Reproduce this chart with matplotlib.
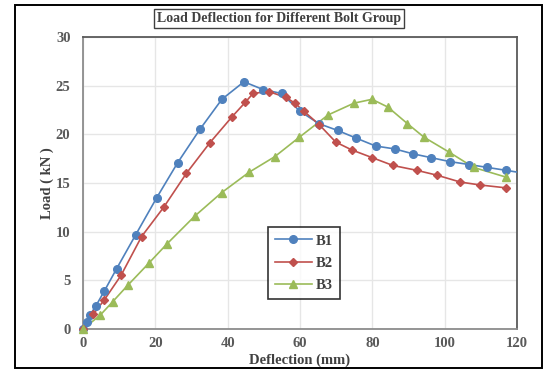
import matplotlib
matplotlib.use("Agg")
import matplotlib.pyplot as plt
from matplotlib.patches import Rectangle

# =========================================================
# DATA
# =========================================================

B1_X = [0, 1.0, 1.9, 3.6, 5.9, 9.3, 14.6, 20.4, 26.2, 32.3, 38.4, 44.5, 49.8,
        54.9, 59.9, 65.2, 70.4, 75.6, 80.9, 86.2, 91.2, 96.3, 101.4, 106.7,
        111.8, 117.0, 122.0]
B1_Y = [0, 0.7, 1.4, 2.4, 3.9, 6.2, 9.7, 13.5, 17.1, 20.5, 23.6, 25.4, 24.6,
        24.2, 22.4, 21.1, 20.4, 19.6, 18.8, 18.5, 18.0, 17.6, 17.2, 16.9,
        16.6, 16.3, 16.0]

B2_X = [0, 2.8, 5.9, 10.5, 16.2, 22.3, 28.6, 35.0, 41.2, 44.9, 47.0, 51.3,
        56.1, 58.6, 61.0, 65.3, 69.9, 74.3, 80.0, 85.7, 92.3, 97.9, 104.3,
        109.7, 117.0]
B2_Y = [0, 1.5, 3.0, 5.5, 9.5, 12.5, 16.0, 19.1, 21.8, 23.3, 24.2, 24.4,
        23.8, 23.2, 22.4, 21.0, 19.2, 18.4, 17.6, 16.8, 16.3, 15.8, 15.1,
        14.8, 14.5]

B3_X = [0, 4.7, 8.2, 12.4, 18.3, 23.1, 30.9, 38.3, 45.9, 53.0, 59.8, 67.8,
        74.9, 79.9, 84.3, 89.7, 94.3, 101.1, 108.0, 117.0]
B3_Y = [0, 1.4, 2.8, 4.5, 6.8, 8.7, 11.6, 14.0, 16.1, 17.7, 19.7, 22.0,
        23.2, 23.6, 22.8, 21.1, 19.7, 18.2, 16.6, 15.6]

X_TICKS = [0, 20, 40, 60, 80, 100, 120]
Y_TICKS = [0, 5, 10, 15, 20, 25, 30]

TITLE = "Load Deflection for Different Bolt Group"
XLABEL = "Deflection (mm)"
YLABEL = "Load ( kN )"

# =========================================================
# STYLE
# =========================================================

SERIF = ["Liberation Serif", "DejaVu Serif"]
TEXT_COLOR = "#404040"
TICK_COLOR = "#595959"
X_MAX = 120

SERIES = [
    ("B1", B1_X, B1_Y, "#4F81BD", "o", 5.5),
    ("B2", B2_X, B2_Y, "#C0504D", "D", 4.0),
    ("B3", B3_X, B3_Y, "#9BBB59", "^", 6.0),
]

plt.rcParams["font.family"] = SERIF
plt.rcParams["font.weight"] = "bold"

fig = plt.figure(figsize=(5.46, 3.70), dpi=100)
ax = fig.add_axes([83 / 546, 1 - 329 / 370, 434 / 546, 292 / 370])

# ---------------- SERIES ----------------
for name, xs, ys, color, marker, ms in SERIES:
    # line clipped to plot area, markers inside range drawn unclipped
    ax.plot(xs, ys, color=color, lw=1.2, zorder=3)
    mx = [x for x in xs if x <= X_MAX]
    my = [y for x, y in zip(xs, ys) if x <= X_MAX]
    ax.plot(mx, my, linestyle="none", marker=marker, markersize=ms,
            color=color, clip_on=False, zorder=4)
    ax.plot([], [], color=color, lw=1.2, marker=marker, markersize=ms,
            label=name)

# ---------------- AXES ----------------
ax.set_xlim(0, X_MAX)
ax.set_ylim(0, 30)
ax.set_xticks(X_TICKS)
ax.set_yticks(Y_TICKS)
ax.grid(True, color="#E6E6E6", lw=1.0, zorder=0)
ax.set_axisbelow(True)
ax.tick_params(length=0, labelsize=10.5, colors=TICK_COLOR, pad=9)
for lab in ax.get_xticklabels() + ax.get_yticklabels():
    lab.set_fontweight("bold")
ax.tick_params(axis="x", pad=6)

ax.spines["left"].set_color("#8C8C8C")
ax.spines["bottom"].set_color("#8C8C8C")
ax.spines["top"].set_color("#5A5A5A")
ax.spines["right"].set_color("#5A5A5A")
for s in ax.spines.values():
    s.set_linewidth(1.3)

ax.set_xlabel(XLABEL, fontsize=10.5, fontweight="bold", color=TEXT_COLOR,
              labelpad=2)
ax.set_ylabel(YLABEL, fontsize=10.5, fontweight="bold", color=TEXT_COLOR,
              labelpad=0)
ax.yaxis.set_label_coords(-0.067, 0.5)

leg = ax.legend(loc="upper left", bbox_to_anchor=(0.426, 0.349),
                borderaxespad=0, frameon=True, fancybox=False,
                handlelength=2.5, borderpad=0.5, labelspacing=0.62,
                handletextpad=0.3,
                prop={"family": SERIF, "weight": "bold", "size": 10.5})
leg.get_frame().set_edgecolor("black")
leg.get_frame().set_linewidth(1.2)
for t in leg.get_texts():
    t.set_color(TEXT_COLOR)

# ---------------- TITLE ----------------
fig.text(279 / 546, 1 - 18.5 / 370, TITLE, ha="center", va="center",
         fontsize=10, fontweight="bold", color=TEXT_COLOR,
         bbox=dict(boxstyle="square,pad=0.2", fc="white", ec="#404040",
                   lw=1.0))

# ---------------- OUTER BORDER ----------------
fig.patches.append(Rectangle((15 / 546, 2 / 370), 527 / 546, 363 / 370,
                             transform=fig.transFigure, fill=False,
                             ec="black", lw=1.4))

fig.savefig("out.png", dpi=100)
plt.close(fig)
